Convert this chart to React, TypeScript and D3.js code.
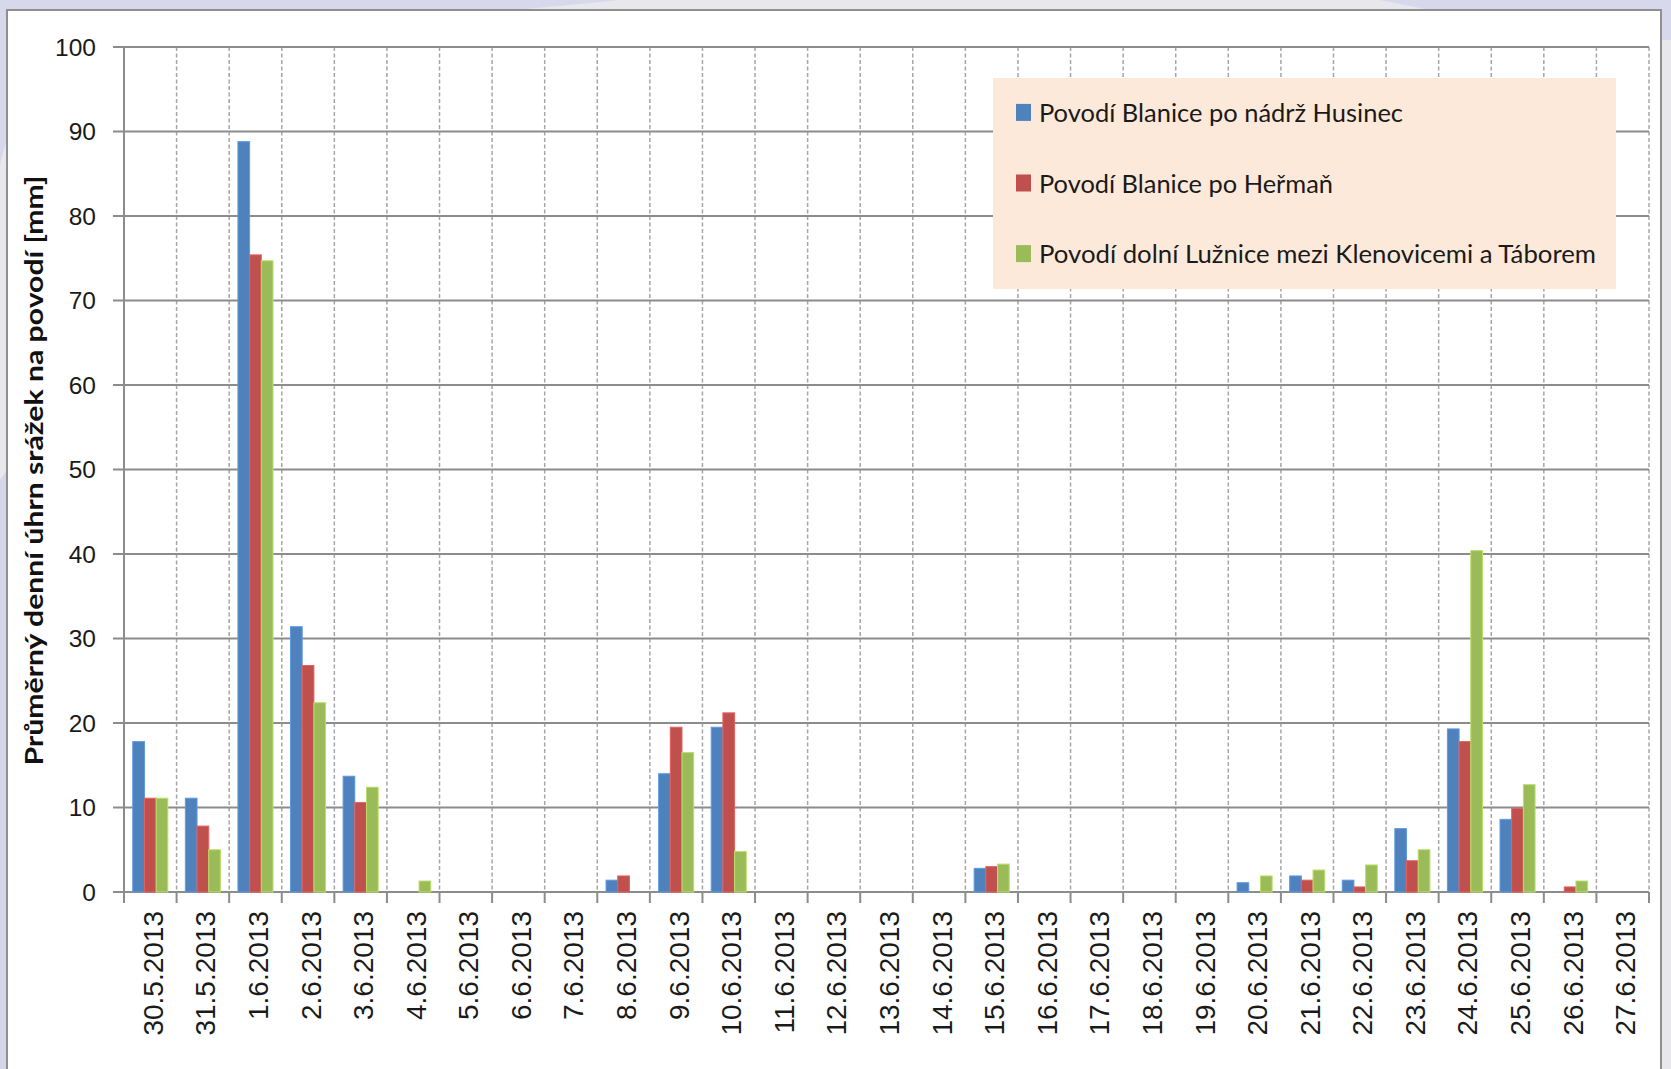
import React from "react";
import * as d3 from "d3";

const categories = [
  "30.5.2013", "31.5.2013", "1.6.2013", "2.6.2013", "3.6.2013", "4.6.2013", "5.6.2013",
  "6.6.2013", "7.6.2013", "8.6.2013", "9.6.2013", "10.6.2013", "11.6.2013", "12.6.2013",
  "13.6.2013", "14.6.2013", "15.6.2013", "16.6.2013", "17.6.2013", "18.6.2013", "19.6.2013",
  "20.6.2013", "21.6.2013", "22.6.2013", "23.6.2013", "24.6.2013", "25.6.2013", "26.6.2013",
  "27.6.2013",
];

const seriesNames = [
  "Povodí Blanice po nádrž Husinec",
  "Povodí Blanice po Heřmaň",
  "Povodí dolní Lužnice mezi Klenovicemi a Táborem",
];

const husinec = [17.8, 11.1, 88.8, 31.4, 13.7, 0, 0, 0, 0, 1.4, 14.0, 19.5, 0, 0, 0, 0, 2.8, 0, 0, 0, 0, 1.1, 1.9, 1.4, 7.5, 19.3, 8.6, 0, 0];
const herman = [11.1, 7.8, 75.4, 26.8, 10.6, 0, 0, 0, 0, 1.9, 19.5, 21.2, 0, 0, 0, 0, 3.0, 0, 0, 0, 0, 0, 1.4, 0.6, 3.7, 17.8, 9.9, 0.6, 0];
const luznice = [11.1, 5.0, 74.7, 22.4, 12.4, 1.3, 0, 0, 0, 0, 16.5, 4.8, 0, 0, 0, 0, 3.3, 0, 0, 0, 0, 1.9, 2.6, 3.2, 5.0, 40.4, 12.7, 1.3, 0];

const yTickValues = [0, 10, 20, 30, 40, 50, 60, 70, 80, 90, 100];
const yTitle = "Průměrný denní úhrn srážek na povodí [mm]";

const seriesColors = ["#4F81BD", "#C0504D", "#9BBB59"];
const legendTextLen = [364, 294, 557];

const W = 1671;
const H = 1069;
const PL = 124, PR = 1649, PT = 47, PB = 892;

export default function App() {
  const series = [husinec, herman, luznice];
  const x = d3.scaleBand<string>().domain(categories).range([PL, PR]).padding(0);
  const xs = d3.scaleBand<number>().domain([0, 1, 2]).range([0, x.bandwidth()]).paddingInner(0).paddingOuter(0.75);
  const y = d3.scaleLinear().domain([0, 100]).range([PB, PT]);
  const step = x.step();
  const boundaries = d3.range(categories.length + 1).map((i) => PL + i * step);

  const axisFont = "'Liberation Sans', Arial, sans-serif";
  const labelFont = "Lato, 'Open Sans', sans-serif";

  return (
    <div style={{ position: "absolute", left: 0, top: 0, width: W, height: H, overflow: "hidden" }}>
      <svg width={W} height={H} style={{ display: "block" }}>
        {/* page background */}
        <rect x={0} y={0} width={W} height={H} fill="#e8e8ec" />
        <path d={`M0,0 L620,0 C560,6 520,10 500,10 L7,10 L7,140 C4,150 0,160 0,170 Z`} fill="#d8d8ec" />
        <path d={`M1380,0 L${W},0 L${W},40 L1661,40 L1661,10 L1430,10 C1410,6 1395,3 1380,0 Z`} fill="#d8d8ec" />
        <path d={`M0,480 L7,470 L7,${H} L0,${H} Z`} fill="#d6d6ea" />
        {/* chart frame */}
        <rect x={7} y={10} width={1654} height={H + 10} fill="#ffffff" stroke="#8f8f8f" strokeWidth={2} />

        {/* vertical dashed grid */}
        {boundaries.slice(1).map((bx, i) => (
          <line key={"vg" + i} x1={bx} x2={bx} y1={PT} y2={PB} stroke="#a6a6a6" strokeWidth={1.5} strokeDasharray="4,2.5" />
        ))}
        {/* horizontal grid */}
        {yTickValues.map((v) => (
          <line key={"hg" + v} x1={PL - 11} x2={PR} y1={y(v)} y2={y(v)} stroke="#8c8c8c" strokeWidth={2} />
        ))}
        {/* axes */}
        <line x1={PL} x2={PL} y1={PT} y2={PB} stroke="#8c8c8c" strokeWidth={2} />
        {boundaries.map((bx, i) => (
          <line key={"xt" + i} x1={bx} x2={bx} y1={PB} y2={PB + 11} stroke="#8c8c8c" strokeWidth={2} />
        ))}

        {/* bars */}
        {series.map((vals, si) => (
          <g key={"s" + si}>
            {vals.map((v, ci) =>
              v > 0 ? (
                <rect
                  key={ci}
                  x={(x(categories[ci]) as number) + (xs(si) as number)}
                  y={y(v)}
                  width={xs.bandwidth()}
                  height={y(0) - y(v)}
                  fill={seriesColors[si]}
                  stroke={d3.color(seriesColors[si])!.brighter(0.5).formatHex()}
                  strokeWidth={1}
                />
              ) : null
            )}
          </g>
        ))}

        {/* y tick labels */}
        {yTickValues.map((v) => (
          <text key={"yl" + v} x={96} y={y(v)} dy="0.36em" textAnchor="end" fontFamily={axisFont} fontSize={24.5} fill="#1a1a1a">
            {v}
          </text>
        ))}

        {/* x tick labels */}
        {categories.map((c) => {
          const cx = (x(c) as number) + step / 2 + 12.5;
          return (
            <text key={"xl" + c} transform={`translate(${cx},911) rotate(-90)`} textAnchor="end" fontFamily={axisFont} fontSize={28} fill="#1a1a1a">
              {c}
            </text>
          );
        })}

        {/* y axis title */}
        <text
          transform="translate(42.5,470.5) rotate(-90)"
          textAnchor="middle"
          fontFamily={labelFont}
          fontWeight="bold"
          fontSize={25}
          fill="#111"
          textLength={590}
          lengthAdjust="spacingAndGlyphs"
        >
          {yTitle}
        </text>

        {/* legend */}
        <rect x={993} y={78} width={623} height={211} fill="#fde9d9" />
        {seriesNames.map((name, i) => {
          const cy = 112.4 + i * 70.6;
          return (
            <g key={"lg" + i}>
              <rect x={1016} y={cy - 8.5} width={15} height={17} fill={seriesColors[i]} />
              <text x={1039} y={cy + 9.5} fontFamily={labelFont} fontSize={25} fill="#1a1a1a" textLength={legendTextLen[i]} lengthAdjust="spacingAndGlyphs">
                {name}
              </text>
            </g>
          );
        })}
      </svg>
    </div>
  );
}
